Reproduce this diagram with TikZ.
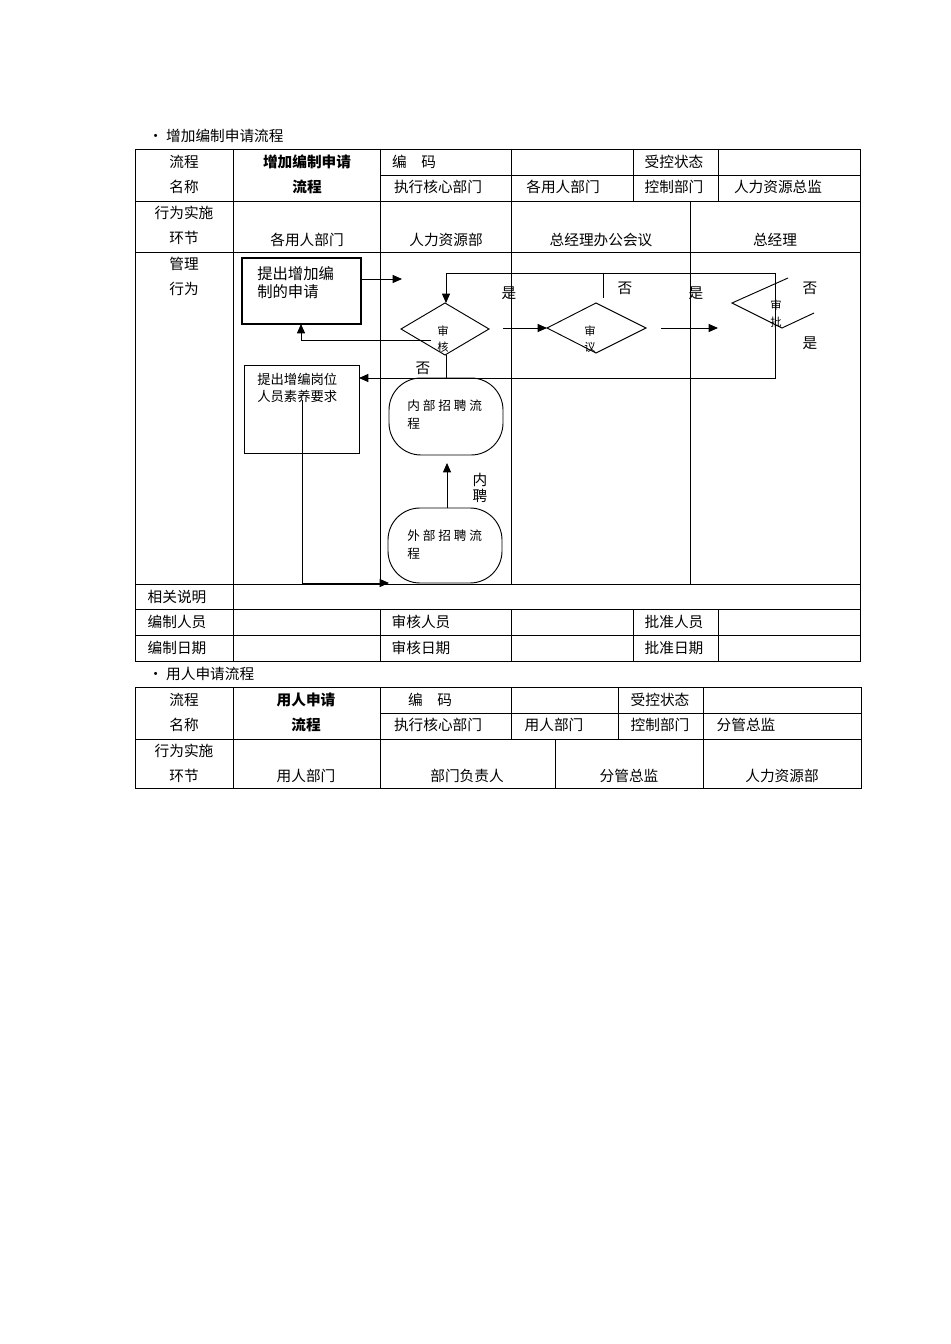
\documentclass[tikz,border=0pt]{standalone}
\usepackage{fontspec}
\setmainfont{Noto Sans CJK SC}
\usetikzlibrary{arrows.meta}
\tikzset{
 t/.style={font=\fontsize{11}{12}\selectfont,inner sep=0pt},
 tb/.style={font=\fontsize{11}{12}\selectfont\bfseries,inner sep=0pt},
 ts/.style={font=\fontsize{8.5}{10}\selectfont,inner sep=0pt},
 tl/.style={font=\fontsize{10}{13}\selectfont,inner sep=0pt,anchor=north west,align=left},
 ar/.style={-{Triangle[length=7pt,width=6pt]},line width=0.7pt},
 ln/.style={line width=0.7pt},
 grid/.style={line width=0.6pt}
}
\begin{document}
\begin{tikzpicture}[x=0.75pt,y=-0.75pt]
\useasboundingbox[fill=white] (0,0) rectangle (950,1344);
% ===== Table 1 =====
\node[t,anchor=west] (b1) at (148,136) {• 增加编制申请流程};
\draw[grid] (135,149) rectangle (860,661);
\foreach \y in {201,252,584,609,635} \draw[grid] (135,\y) -- (860,\y);
\draw[grid] (380,175) -- (860,175);
\draw[grid] (233,149) -- (233,661);
\draw[grid] (380,149) -- (380,201);
\foreach \x in {511,633,718} {\draw[grid] (\x,149) -- (\x,201); \draw[grid] (\x,609) -- (\x,661);}
\draw[grid] (380,609) -- (380,661);
\draw[grid] (380,201) -- (380,584);
\draw[grid] (511,201) -- (511,584);
\draw[grid] (690,201) -- (690,584);
\node[t] at (184,162) {流程}; \node[t] at (184,187) {名称};
\node[tb] at (307,162) {增加编制申请}; \node[tb] at (307,187) {流程};
\node[t] at (414,162) {编\quad 码}; \node[t] at (674,162) {受控状态};
\node[t] at (438,187) {执行核心部门}; \node[t] at (563,187) {各用人部门};
\node[t] at (674,187) {控制部门}; \node[t] at (778,187) {人力资源总监};
\node[t] at (184,213) {行为实施}; \node[t] at (184,238) {环节};
\node[t] at (307,240) {各用人部门}; \node[t] at (446,240) {人力资源部};
\node[t] at (601,240) {总经理办公会议}; \node[t] at (775,240) {总经理};
\node[t] at (184,264) {管理}; \node[t] at (184,289) {行为};
\node[t] at (177,597) {相关说明};
\node[t] at (177,622) {编制人员}; \node[t] at (421,622) {审核人员}; \node[t] at (674,622) {批准人员};
\node[t] at (177,648) {编制日期}; \node[t] at (421,648) {审核日期}; \node[t] at (674,648) {批准日期};
% ===== Flow =====
\draw[line width=2.2pt] (242,258) rectangle (361,324);
\node[font=\fontsize{11.5}{14}\selectfont,inner sep=0pt,anchor=north west,align=left] (p1) at (257,266) {提出增加编\\制的申请};
\coordinate (b1r) at (361,279);
\coordinate (b1b) at (301,324);
\draw[ar] (b1r) -- (402,279);
% diamond 审核
\draw[ln] (401,329) -- (445,303) -- (489,329) -- (445,355) -- cycle;
\coordinate (dk) at (445,329);
\node[ts] at (443,331) {审}; \node[ts] at (443,347) {核};
% diamond 审议
\draw[ln] (547,328) -- (596,303) -- (646,328) -- (596,353) -- cycle;
\node[ts] at (590,331) {审}; \node[ts] at (590,347) {议};
% diamond 审批 (partial)
\draw[ln] (788,278) -- (732,303) -- (782,328) -- (814,313);
\node[ts] at (776,305) {审}; \node[ts] at (776,322) {批};
\draw[ar] (503,328) -- (547,328);
\draw[ar] (661,328) -- (718,328);
% loop
\draw[ar] (775,273) -- (446,273) -- (446,303);
\draw[ln] (603,273) -- (603,298);
\draw[ar] (775,273) -- (775,378) -- (359,378);
\draw[ln] (446,355) -- (446,378);
\draw[ar] (431,340) -- (301,340) -- (b1b);
\node[t] at (509,293) {是}; \node[t] at (625,288) {否}; \node[t] at (696,293) {是};
\node[t] at (810,288) {否}; \node[t] at (810,343) {是}; \node[t] at (423,368) {否};
% box 2
\draw[ln] (244,365) rectangle (359,453);
\node[tl] (p2) at (257,373) {提出增编岗位\\人员素养要求};
\draw[ar] (302,400) -- (302,583) -- (389,583);
% rounded boxes
\draw[ln,rounded corners=24pt] (389,378) rectangle (503,455);
\node[tl,font=\fontsize{9.5}{13}\selectfont] (r1) at (407,400) {内 部 招 聘 流\\程};
\draw[ln,rounded corners=24pt] (388,508) rectangle (502,583);
\node[tl,font=\fontsize{9.5}{13}\selectfont] (r2) at (407,530) {外 部 招 聘 流\\程};
\draw[ar] (447,508) -- (447,463);
\node[t] at (480,480) {内}; \node[t] at (480,496) {聘};
% ===== Table 2 =====
\node[t,anchor=west] (b2) at (148,674) {• 用人申请流程};
\draw[grid] (135,687) rectangle (861,788);
\draw[grid] (380,713) -- (861,713);
\draw[grid] (135,739) -- (861,739);
\draw[grid] (233,687) -- (233,788);
\draw[grid] (380,687) -- (380,788);
\foreach \x in {511,618,703} \draw[grid] (\x,687) -- (\x,739);
\draw[grid] (555,739) -- (555,788);
\draw[grid] (703,739) -- (703,788);
\node[t] at (184,700) {流程}; \node[t] at (184,725) {名称};
\node[tb] at (306,700) {用人申请}; \node[tb] at (306,725) {流程};
\node[t] at (430,700) {编\quad 码}; \node[t] at (660,700) {受控状态};
\node[t] at (438,725) {执行核心部门}; \node[t] at (554,725) {用人部门};
\node[t] at (660,725) {控制部门}; \node[t] at (746,725) {分管总监};
\node[t] at (184,751) {行为实施}; \node[t] at (184,776) {环节};
\node[t] at (306,776) {用人部门}; \node[t] at (467,776) {部门负责人};
\node[t] at (629,776) {分管总监}; \node[t] at (782,776) {人力资源部};
\end{tikzpicture}
\end{document}
